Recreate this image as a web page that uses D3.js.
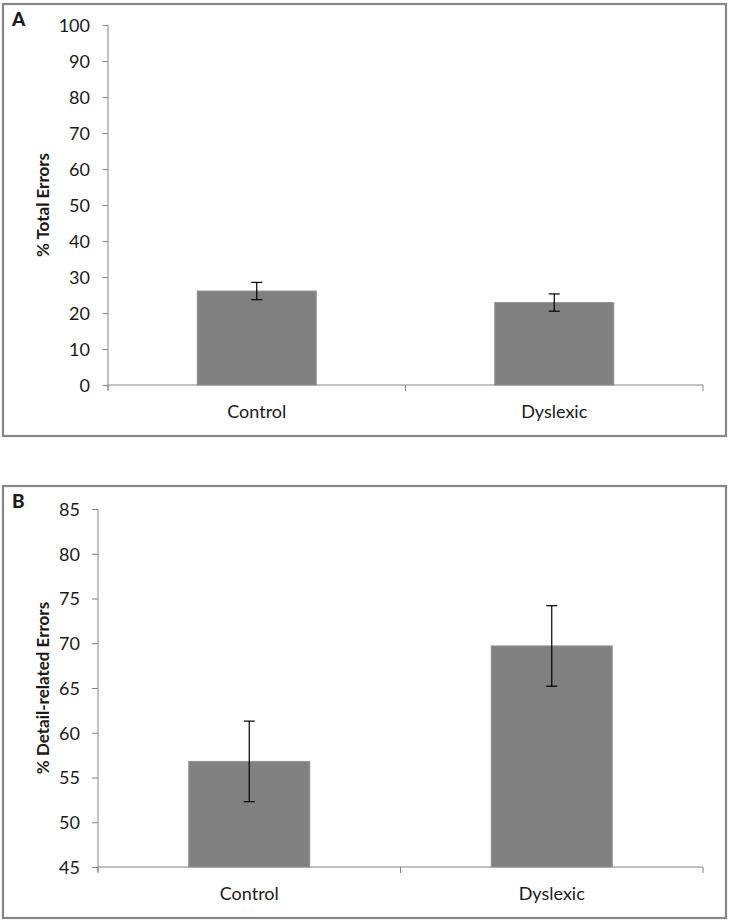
<!DOCTYPE html>
<html>
<head>
<meta charset="utf-8">
<script src="https://cdn.jsdelivr.net/npm/d3@7"></script>
<style>
  html, body { margin: 0; padding: 0; background: #fff; }
  svg { display: block; }
  text { font-family: Lato, "Open Sans", "Liberation Sans", sans-serif; fill: #1a1a1a; }
</style>
</head>
<body>
<svg id="chart" width="729" height="922"></svg>
<script>
// ---- data ----
const categories = ["Control", "Dyslexic"];
const totalErrors = [26.1, 22.9];
const totalErrorsSE = [2.4, 2.4];
const detailErrors = [56.8, 69.7];
const detailErrorsSE = [4.5, 4.5];
const ticksA = [0, 10, 20, 30, 40, 50, 60, 70, 80, 90, 100];
const ticksB = [45, 50, 55, 60, 65, 70, 75, 80, 85];

const svg = d3.select("#chart");
const axisColor = "#868686";

function panel(cfg) {
  const g = svg.append("g");
  // frame
  g.append("rect")
    .attr("x", cfg.frame[0]).attr("y", cfg.frame[1])
    .attr("width", cfg.frame[2]).attr("height", cfg.frame[3])
    .attr("fill", "#fff").attr("stroke", axisColor).attr("stroke-width", 2.2);
  // panel letter
  g.append("text").attr("x", cfg.frame[0] + 9).attr("y", cfg.letterY)
    .attr("font-size", 19).attr("font-weight", "900").attr("fill", "#000")
    .text(cfg.letter);

  const x = d3.scaleBand().domain(categories)
    .range([cfg.left, cfg.right]).paddingInner(0.6).paddingOuter(0.3);
  const y = d3.scaleLinear().domain(cfg.domain).range([cfg.bottom, cfg.top]);

  // y axis
  const ya = g.append("g").attr("transform", `translate(${cfg.left},0)`)
    .call(d3.axisLeft(y).tickValues(cfg.ticks).tickSize(cfg.tickSize).tickPadding(cfg.tickPad).tickFormat(d3.format("d")));
  ya.select(".domain").attr("stroke", axisColor).attr("d", `M0,${cfg.top}V${cfg.bottom + 5}`);
  ya.selectAll(".tick line").attr("stroke", axisColor);
  ya.selectAll(".tick text").attr("font-size", 18).attr("fill", "#1a1a1a").attr("dy", "0.36em");

  // bars
  g.selectAll("rect.bar").data(cfg.values).join("rect")
    .attr("class", "bar")
    .attr("x", (d, i) => x(categories[i]))
    .attr("width", x.bandwidth())
    .attr("y", d => y(d))
    .attr("height", d => y(cfg.domain[0]) - y(d))
    .attr("fill", "#808080").attr("stroke", "#939393").attr("stroke-width", 1);

  // x axis
  const xa = g.append("g").attr("transform", `translate(0,${cfg.bottom})`)
    .call(d3.axisBottom(x).tickSize(0).tickPadding(20));
  xa.select(".domain").attr("stroke", axisColor).attr("d", `M${cfg.left},0H${cfg.right}`);
  xa.selectAll(".tick text").attr("font-size", 18).attr("fill", "#1a1a1a");
  // category boundary ticks
  const bounds = [cfg.left, cfg.left + x.step(), cfg.right];
  xa.selectAll("line.bt").data(bounds).join("line").attr("class", "bt")
    .attr("x1", d => d).attr("x2", d => d).attr("y1", 0).attr("y2", 6)
    .attr("stroke", axisColor);

  // error bars
  const eb = g.selectAll("g.err").data(cfg.values).join("g").attr("class", "err");
  const cx = i => x(categories[i]) + x.bandwidth() / 2;
  eb.append("line")
    .attr("x1", (d, i) => cx(i)).attr("x2", (d, i) => cx(i))
    .attr("y1", (d, i) => y(d + cfg.se[i])).attr("y2", (d, i) => y(d - cfg.se[i]))
    .attr("stroke", "#000").attr("stroke-width", 1.2);
  [1, -1].forEach(s => {
    eb.append("line")
      .attr("x1", (d, i) => cx(i) - 5.5).attr("x2", (d, i) => cx(i) + 5.5)
      .attr("y1", (d, i) => y(d + s * cfg.se[i])).attr("y2", (d, i) => y(d + s * cfg.se[i]))
      .attr("stroke", "#000").attr("stroke-width", 1.2);
  });

  // y axis title
  g.append("text")
    .attr("transform", `translate(${cfg.titleX},${(cfg.top + cfg.bottom) / 2}) rotate(-90)`)
    .attr("text-anchor", "middle").attr("font-size", 17).attr("font-weight", "bold").attr("fill", "#000")
    .text(cfg.title);
}

panel({
  frame: [3, 4, 723, 432], letter: "A", letterY: 26,
  left: 108, right: 703, top: 25, bottom: 385,
  domain: [0, 100], ticks: ticksA, tickSize: 5, tickPad: 13,
  values: totalErrors, se: totalErrorsSE,
  title: "% Total Errors", titleX: 49
});

panel({
  frame: [3, 486, 723, 432], letter: "B", letterY: 508,
  left: 98, right: 703, top: 509, bottom: 867,
  domain: [45, 85], ticks: ticksB, tickSize: 6, tickPad: 12,
  values: detailErrors, se: detailErrorsSE,
  title: "% Detail-related Errors", titleX: 49
});
</script>
</body>
</html>
